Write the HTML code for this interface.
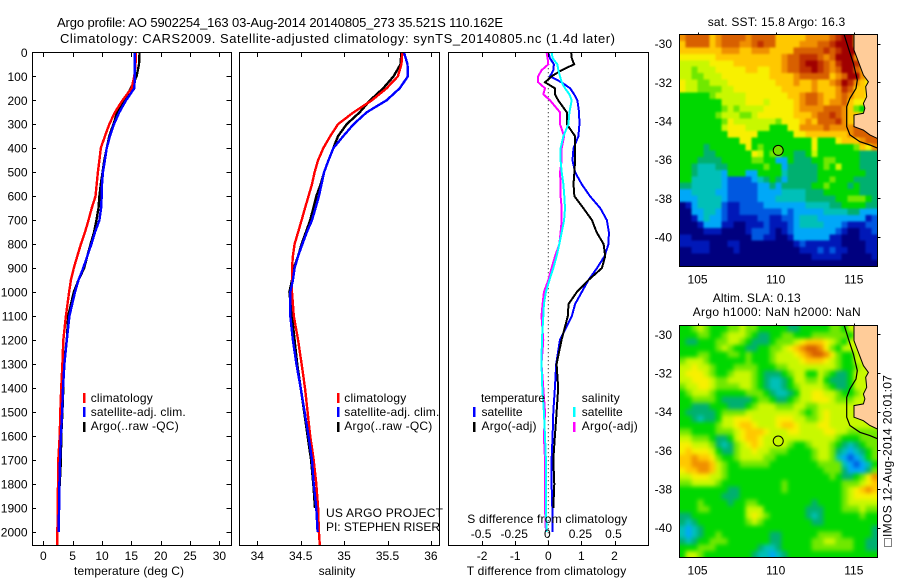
<!DOCTYPE html>
<html lang="en">
<head>
<meta charset="utf-8">
<title>Argo profile chart</title>
<style>
html,body{margin:0;padding:0;background:#fff;}
svg{display:block;}
text{font-family:"Liberation Sans",sans-serif;font-size:12px;fill:#000;}
.t{font-size:13px;}
</style>
</head>
<body>
<svg id="chart" xmlns="http://www.w3.org/2000/svg" width="900" height="580" viewBox="0 0 900 580">
<defs>
<clipPath id="clip-p1"><rect x="32" y="52" width="200" height="494"/></clipPath>
<clipPath id="clip-p2"><rect x="239" y="52" width="201" height="494"/></clipPath>
<clipPath id="clip-p3"><rect x="448" y="52" width="201" height="494"/></clipPath>
<clipPath id="clip-m1"><rect x="679.5" y="34.5" width="198" height="232"/></clipPath>
<clipPath id="clip-m2"><rect x="679.5" y="325.5" width="198" height="232"/></clipPath>
<filter id="soften-sst" x="-10%" y="-10%" width="120%" height="120%" color-interpolation-filters="sRGB"><feGaussianBlur stdDeviation="1.1"/></filter>
<filter id="soften-sla" x="-10%" y="-10%" width="120%" height="120%" color-interpolation-filters="sRGB"><feGaussianBlur stdDeviation="2.2"/></filter>
</defs>
<rect x="0" y="0" width="900" height="580" fill="#fff"/>
<g id="layer-maps"></g>
<g id="layer-profiles"></g>
<g id="layer-axes"></g>

<text class="t" x="57" y="27" textLength="446">Argo profile: AO 5902254_163 03-Aug-2014 20140805_273 35.521S 110.162E</text>
<text class="t" x="60" y="43" textLength="555">Climatology: CARS2009. Satellite-adjusted climatology: synTS_20140805.nc (1.4d later)</text>

<text x="129" y="575" text-anchor="middle" textLength="110">temperature (deg C)</text>
<text x="337" y="575" text-anchor="middle">salinity</text>
<text x="466.7" y="575" textLength="159.5">T difference from climatology</text>
<text x="467.3" y="523" textLength="160">S difference from climatology</text>

<g>
<rect x="83" y="393" width="2.5" height="10" fill="#f00"/>
<rect x="83" y="407" width="2.5" height="10" fill="#00f"/>
<rect x="83" y="422" width="2.5" height="10" fill="#000"/>
<text x="90.7" y="402" textLength="62">climatology</text>
<text x="90.7" y="416" textLength="95">satellite-adj. clim.</text>
<text x="90.7" y="430" textLength="88">Argo(..raw -QC)</text>
</g>
<g>
<rect x="337" y="393" width="2.5" height="10" fill="#f00"/>
<rect x="337" y="407" width="2.5" height="10" fill="#00f"/>
<rect x="337" y="422" width="2.5" height="10" fill="#000"/>
<text x="344.3" y="402" textLength="62">climatology</text>
<text x="344.3" y="416" textLength="95">satellite-adj. clim.</text>
<text x="344.3" y="430" textLength="88">Argo(..raw -QC)</text>
</g>
<text x="326" y="517" textLength="117">US ARGO PROJECT</text>
<text x="326" y="531" textLength="114">PI: STEPHEN RISER</text>

<g>
<text x="481" y="402" textLength="64">temperature</text>
<rect x="473" y="407" width="2.5" height="10" fill="#00f"/>
<rect x="473" y="422" width="2.5" height="10" fill="#000"/>
<text x="481.5" y="416" textLength="41">satellite</text>
<text x="481.5" y="430" textLength="55">Argo(-adj)</text>
<text x="581.7" y="402" textLength="38">salinity</text>
<rect x="573" y="407" width="2.5" height="10" fill="#0ff"/>
<rect x="573" y="422" width="2.5" height="10" fill="#f0f"/>
<text x="581.7" y="416" textLength="41">satellite</text>
<text x="581.7" y="430" textLength="56">Argo(-adj)</text>
</g>

<text x="707.7" y="26" textLength="137.5">sat. SST: 15.8 Argo: 16.3</text>
<text x="712.7" y="302" textLength="88">Altim. SLA: 0.13</text>
<text x="692.7" y="316" textLength="168">Argo h1000: NaN h2000: NaN</text>
<text transform="translate(891.7,537) rotate(-90)" textLength="162">IMOS 12-Aug-2014 20:01:07</text>
<rect x="884.5" y="538.5" width="7" height="8" fill="none" stroke="#000" stroke-width="1" stroke-dasharray="1 1"/>

<script>
// ---------- Profile data ----------
const profileDepths = [0,50,100,150,200,250,300,350,400,450,500,550,600,650,700,750,800,850,900,950,1000,1100,1200,1300,1400,1500,1600,1700,1800,1900,2000,2055];
const tempClimatology = [15.8,15.7,15.5,15.05,13.5,12.2,11.25,10.5,9.8,9.55,9.3,9.1,8.9,8.25,7.7,7.1,6.4,5.8,5.2,4.7,4.4,3.85,3.4,3.25,3.05,2.9,2.8,2.55,2.5,2.45,2.4,2.4];
const tempSatellite = [15.6,15.6,15.6,15.5,14.1,12.95,12.05,11.35,10.8,10.5,10.15,10.0,9.95,9.85,9.55,8.8,8.2,7.5,6.8,6.0,5.4,4.45,4,3.6,3.35,3.2,3.0,2.85,2.75,2.7,2.6,null];
const tempArgo = [16.4,16.3,15.9,14.9,13.75,12.6,11.95,11.25,10.8,10.4,10.1,9.8,9.55,9.4,9.05,8.65,8.05,7.5,6.95,6,5.2,4.25,4,3.5,3.4,3.25,3.05,3,2.8,2.5,null,null];
const salClimatology = [35.67,35.66,35.62,35.49,35.32,35.11,34.93,34.84,34.76,34.7,34.66,34.63,34.59,34.55,34.51,34.47,34.43,34.41,34.4,34.4,34.4,34.42,34.47,34.51,34.55,34.58,34.61,34.65,34.68,34.7,34.71,34.72];
const salSatellite = [35.69,35.73,35.735,35.64,35.49,35.26,35.11,34.99,34.875,34.82,34.77,34.74,34.71,34.67,34.63,34.57,34.52,34.47,34.43,34.41,34.38,34.38,34.41,34.45,34.5,34.545,34.59,34.63,34.65,34.68,34.695,null];
const salArgo = [35.66,35.65,35.57,35.45,35.3,35.18,35.03,34.93,34.875,34.82,34.77,34.73,34.68,34.645,34.61,34.56,34.51,34.47,34.42,34.4,34.37,34.4,34.43,34.46,34.5,34.54,34.58,34.62,34.645,34.665,null,null];

const diffDepths = [0,25,50,75,100,125,150,175,200,250,300,350,400,450,500,550,600,650,700,750,800,850,900,950,1000,1050,1100,1200,1300,1400,1500,1600,1700,1800,1900,2000];
const tDiffSatellite = [0,.05,.17,.15,.05,.40,.66,.78,.88,.93,.94,.91,.76,.73,.81,1.01,1.26,1.57,1.77,1.83,1.82,1.70,1.47,1.21,1.01,.81,.71,.35,.24,.20,.15,.13,.10,.10,.12,.13];
const tDiffArgo = [.69,.71,.78,.40,.10,-.10,.20,.20,.30,.56,.56,.81,.81,.81,.79,.76,.79,1.06,1.32,1.46,1.67,1.72,1.62,1.21,.86,.61,.59,.40,.25,.30,.25,.20,.15,.18,.15,null];
const sDiffSatellite = [.025,.033,.068,.076,.088,.101,.126,.159,.177,.159,.152,.114,.093,.093,.101,.114,.121,.126,.119,.101,.083,.063,.038,.008,-.018,-.033,-.038,-.048,-.051,-.045,-.033,-.025,-.018,-.018,-.018,-.013];
const sDiffArgo = [-.013,-.005,0,-.051,-.076,-.076,-.025,-.038,.013,.088,.088,.119,.101,.101,.088,.093,.093,.101,.101,.093,.083,.051,.025,0,-.033,-.043,-.051,-.038,-.051,-.038,-.025,-.033,-.025,-.025,-.025,-.018];

// ---------- Tick labels ----------
const depthTicks = [0,100,200,300,400,500,600,700,800,900,1000,1100,1200,1300,1400,1500,1600,1700,1800,1900,2000];
const tempTicks = [0,5,10,15,20,25,30];
const salTicks = [34,34.5,35,35.5,36];
const tDiffTicks = [-2,-1,0,1,2];
const sDiffTicks = [-0.5,-0.25,0,0.25,0.5];
const lonTicks = [105,110,115];
const latTicks = [-30,-32,-34,-36,-38,-40];

// ---------- Map data (palette index per cell, north to south) ----------
const mapLevels = {'0':'#00007f','1':'#0018b8','2':'#0058e0','3':'#00a8f8','4':'#00c0b8','5':'#00b070','6':'#00d800','7':'#70e800','8':'#c8f800','9':'#f8f000','a':'#ffc800','b':'#f09000','c':'#d86000','d':'#c03000','e':'#a00000'};
const sstRows = [
"bccccabccccbccccaaaaabbbbcdee9999",
"accccabcccbbcdccaaaabbbccdeee999",
"aaaaaaabbbaabbbaaaacccccdcdeeeb99",
"999999aaaaaaaaaaabccdddcbceeeb999",
"888889999aaaaaaaabccdeedcbdeedc99",
"88788899999aa99aabccddedcbceecb9",
"887788899999999aaaabcccccabceeb99",
"9887788899999999aaabaabaabcedba99",
"98877778899999999aaaaabaaabdcaa99",
"666667888889999999aabccbaabcbaa9",
"666666688889998999 9abccbabbca999",
"66666667878888999 99abbbbcccba766",
"66666678887789999 99aaabccdcbaa99",
"66666667988888887999abacccdba999",
"66666668999888866699bbbbcbbbbccaa",
"666666669999966666699aaaaaaabcccc",
"666666666699666666666696669aaabcc",
"666656666669676666666696666667a9b",
"666655666666986776655686666666555",
"666555566666776633655566776666555",
"665444556666667663555556768666555",
"665444436663366664555556666666655",
"664444432222345653555556676665555",
"554444432222233535555566766656555",
"334444332222233334444555666666555",
"333444432222233344444555556677765",
"013444421122223333333444455666655",
"003344321122222223233333444455333",
"001343321111122112234443333333312",
"000133311001112111234444333211122",
"000011100001222101233333332100112",
"110000000000221100133333311000111",
"111110001100000000012111111000011",
"001110000100000000001112121100011",
"000000000000000000000011111000001",
"000000000000000000000000000000000"
].map(function(r){ return r.split(' ').join(''); });
const slaRows = [
"667876667787766666556666677688888",
"666776678887655667766677777768888",
"655666778876555677789aaa987688888",
"666666787665566778 9abccb97688888",
"66677666776766678889abccb97668888",
"788876666667666788889aaa987668888",
"889887666777766677888888887667888",
"899987667888765556788668765568888",
"889998778888765445688778655568888",
"788998777788765445678888765568888",
"678887666667776544568899887667888",
"667777655555677655678899987778888",
"665556665556788877788778888888888",
"655555677778888888887678988888888",
"665455688999888899988778988888888",
"6666667889aa98889aa98889988888888",
"7766667778 9aaa988899888899887777",
"88777655689aa98888888888887666777",
"998887545789a98888766788876545677",
"9a9998655788988777666678875434567",
"aabaa97667888877666666788743234 67",
"aabbba8766777776666666677774323468",
"9aabba87666666666666666677753335 79",
"88999887666666666666666667655679b",
"77888876666666666766666666677789ab",
"666666665566666667666666666789aba",
"666666655566666666666666666789999",
"666766665667766666666656666788888",
"666776666668886666666555666777877",
"556666666668987666666545666666766",
"545666666667876666666655666666666",
"434566666666666666666666666666665",
"434566766666666556666667777666665",
"545667776666666556666677887776655",
"666777666666654456666677777776655",
"688766666666544345666666666666666"
].map(function(r){ return r.split(' ').join(''); });

// ---------- Geography (lon, lat pairs) ----------
const landLon = [115.01,115.01,115.29,115.61,115.93,115.76,115.82,115.61,115.71,115.61,115.01,115.01,115.61,116.03,116.5,116.7,116.7];
const landLat = [-29.4,-30.33,-30.93,-31.62,-31.97,-32.22,-32.74,-33.09,-33.34,-33.6,-33.69,-34.29,-34.47,-34.72,-34.9,-34.9,-29.4];
const isoLon = [114.33,114.69,114.97,115.22,115.14,114.75,114.54,114.54,114.75,115.39,116.03,116.6];
const isoLat = [-29.4,-30.33,-31.02,-31.88,-32.31,-32.83,-33.26,-34.29,-34.72,-35.07,-35.24,-35.43];
const argoLon = 110.162;
const argoLat = -35.521;

// ---------- Axis functions ----------
const NS = 'http://www.w3.org/2000/svg';
function depthY(d){ return 52.3 + d * 0.2398; }
function tempX(t){ return 43.3 + t * 5.87; }
function salX(s){ return 257.3 + (s - 34) * 86.8; }
function diffX(t){ return 548.3 + t * 33.1; }
function sDiffX(s){ return diffX(s * 4); }
function lonX(lon){ return 775.7 + (lon - 110) * 15.63; }
function latY(lat, lat30){ return lat30 + (-30 - lat) * 19.33; }

function make(tag, attrs, parent){
  const el = document.createElementNS(NS, tag);
  for (const k in attrs) el.setAttribute(k, attrs[k]);
  parent.appendChild(el);
  return el;
}
const maps = document.getElementById('layer-maps');
const profiles = document.getElementById('layer-profiles');
const axes = document.getElementById('layer-axes');

function drawLine(xs, ys, xf, color, width, clip, name){
  let pts = [];
  for (let i = 0; i < xs.length; i++){
    if (xs[i] === null) continue;
    pts.push(xf(xs[i]).toFixed(1) + ',' + depthY(ys[i]).toFixed(1));
  }
  const el = make('polyline', {points: pts.join(' '), fill:'none', stroke:color, 'stroke-width':width, 'clip-path':'url(#' + clip + ')', 'shape-rendering':'crispEdges'}, profiles);
  
  
}

// ---------- Series ----------
drawLine(tempArgo, profileDepths, tempX, '#000', 2.4, 'clip-p1', 'temperature-argo-line');
drawLine(tempClimatology, profileDepths, tempX, '#f00', 2.4, 'clip-p1', 'temperature-climatology-line');
drawLine(tempSatellite, profileDepths, tempX, '#00f', 2.4, 'clip-p1', 'temperature-satellite-line');
drawLine(salArgo, profileDepths, salX, '#000', 2.4, 'clip-p2', 'salinity-argo-line');
drawLine(salClimatology, profileDepths, salX, '#f00', 2.4, 'clip-p2', 'salinity-climatology-line');
drawLine(salSatellite, profileDepths, salX, '#00f', 2.4, 'clip-p2', 'salinity-satellite-line');

const zeroLine = make('line', {x1:diffX(0), x2:diffX(0), y1:depthY(0), y2:545, stroke:'#000', 'stroke-width':1, 'stroke-dasharray':'1 3'}, profiles);



drawLine(tDiffSatellite, diffDepths, diffX, '#00f', 2, 'clip-p3', 't-difference-satellite-line');
drawLine(tDiffArgo, diffDepths, diffX, '#000', 2, 'clip-p3', 't-difference-argo-line');
drawLine(sDiffArgo, diffDepths, sDiffX, '#f0f', 2, 'clip-p3', 's-difference-argo-line');
drawLine(sDiffSatellite, diffDepths, sDiffX, '#0ff', 2, 'clip-p3', 's-difference-satellite-line');

// ---------- Profile panels ----------
const panels = [[32.5,231.5,'temperature-panel'],[239.5,439.5,'salinity-panel'],[448.5,648.5,'difference-panel']];
panels.forEach(function(p){
  const box = make('rect', {x:p[0], y:52.5, width:p[1]-p[0], height:493, fill:'none', stroke:'#000', 'stroke-width':1}, axes);
  
  
});

function xTick(x, top, bottom){
  const px = Math.round(x) + 0.5;
  if (top){
    const a = make('line', {x1:px, x2:px, y1:52.5, y2:57, stroke:'#000', 'stroke-width':1}, axes);
    
    
  }
  if (bottom){
    const b = make('line', {x1:px, x2:px, y1:541, y2:545.5, stroke:'#000', 'stroke-width':1}, axes);
    
    
  }
}
function label(x, y, str, anchor, name){
  const el = make('text', {x:x, y:y, 'text-anchor':anchor}, axes);
  el.textContent = str;
  
  
}

depthTicks.forEach(function(d){
  const y = Math.round(depthY(d)) + 0.5;
  if (d > 0){
    const l = make('line', {x1:32.5, x2:36, y1:y, y2:y, stroke:'#000', 'stroke-width':1}, axes);
    
    
    const r = make('line', {x1:226.5, x2:231.5, y1:y, y2:y, stroke:'#000', 'stroke-width':1}, axes);
    
    
  }
  label(27.5, depthY(d) + 4.5, String(d), 'end', 'depth-tick-label');
});
tempTicks.forEach(function(t){
  xTick(tempX(t), true, true);
  label(tempX(t), 560, String(t), 'middle', 'temperature-tick-label');
});
salTicks.forEach(function(s){
  xTick(salX(s), true, true);
  label(salX(s), 560, String(s), 'middle', 'salinity-tick-label');
});
tDiffTicks.forEach(function(t){
  xTick(diffX(t), true, true);
  label(diffX(t), 560, String(t), 'middle', 't-difference-tick-label');
});
sDiffTicks.forEach(function(s){
  label(sDiffX(s) - 1, 538, String(s), 'middle', 's-difference-tick-label');
});

// ---------- Maps ----------
function drawMap(rows, lat30, top, bottom, clip, filter, mapName, cellName, markerFill){
  const left = 679.5, right = 877.5;
  const nCols = 33, nRows = rows.length;
  const cw = (right - left) / nCols, ch = (bottom - top) / nRows;
  const pad = 14;
  const clipGroup = make('g', {'clip-path':'url(#' + clip + ')'}, maps);
  
  
  const cells = make('g', {filter:'url(#' + filter + ')'}, clipGroup);
  
  
  rows.forEach(function(row, r){
    for (let c = 0; c < nCols; c++){
      const v = row.charAt(Math.min(c, row.length - 1));
      const x0 = c === 0 ? left - pad : left + c * cw;
      const x1 = c === nCols - 1 ? right + pad : left + (c + 1) * cw + 0.6;
      const y0 = r === 0 ? top - pad : top + r * ch;
      const y1 = r === nRows - 1 ? bottom + pad : top + (r + 1) * ch + 0.6;
      const cell = make('rect', {x:x0.toFixed(2), y:y0.toFixed(2), width:(x1 - x0).toFixed(2), height:(y1 - y0).toFixed(2), fill:mapLevels[v], 'shape-rendering':'crispEdges'}, cells);
      
      
    }
  });
  const landPts = landLon.map(function(lon, i){ return lonX(lon).toFixed(1) + ',' + latY(landLat[i], lat30).toFixed(1); }).join(' ');
  const land = make('polygon', {points:landPts, fill:'#ffcc99', stroke:'#000', 'stroke-width':1}, clipGroup);
  
  
  const isoPts = isoLon.map(function(lon, i){ return lonX(lon).toFixed(1) + ',' + latY(isoLat[i], lat30).toFixed(1); }).join(' ');
  const iso = make('polyline', {points:isoPts, fill:'none', stroke:'#000', 'stroke-width':1.2}, clipGroup);
  
  
  const marker = make('circle', {cx:lonX(argoLon), cy:latY(argoLat, lat30), r:5, fill:markerFill, stroke:'#000', 'stroke-width':1}, maps);
  
  
  const frame = make('rect', {x:left, y:top, width:right-left, height:bottom-top, fill:'none', stroke:'#000', 'stroke-width':1}, maps);
  
  
  lonTicks.forEach(function(lon){
    const px = Math.round(lonX(lon)) + 0.5;
    const tk = make('line', {x1:px, x2:px, y1:top-2, y2:top, stroke:'#000', 'stroke-width':1}, maps);
    
    
    const t = make('text', {x:lonX(lon), y:bottom + 17, 'text-anchor':'middle'}, maps);
    t.textContent = String(lon);
    
    
  });
  latTicks.forEach(function(lat){
    const py = Math.round(latY(lat, lat30)) + 0.5;
    const tk = make('line', {x1:right, x2:right+3, y1:py, y2:py, stroke:'#000', 'stroke-width':1}, maps);
    
    
    const t = make('text', {x:672, y:latY(lat, lat30) + 4.5, 'text-anchor':'end'}, maps);
    t.textContent = String(lat);
    
    
  });
}
drawMap(sstRows, 43.7, 34.5, 266.5, 'clip-m1', 'soften-sst', 'sst-map', 'sst-cell', '#70e000');
drawMap(slaRows, 334.3, 325.5, 557.5, 'clip-m2', 'soften-sla', 'sla-map', 'sla-cell', 'none');
</script>
</svg>
</body>
</html>
